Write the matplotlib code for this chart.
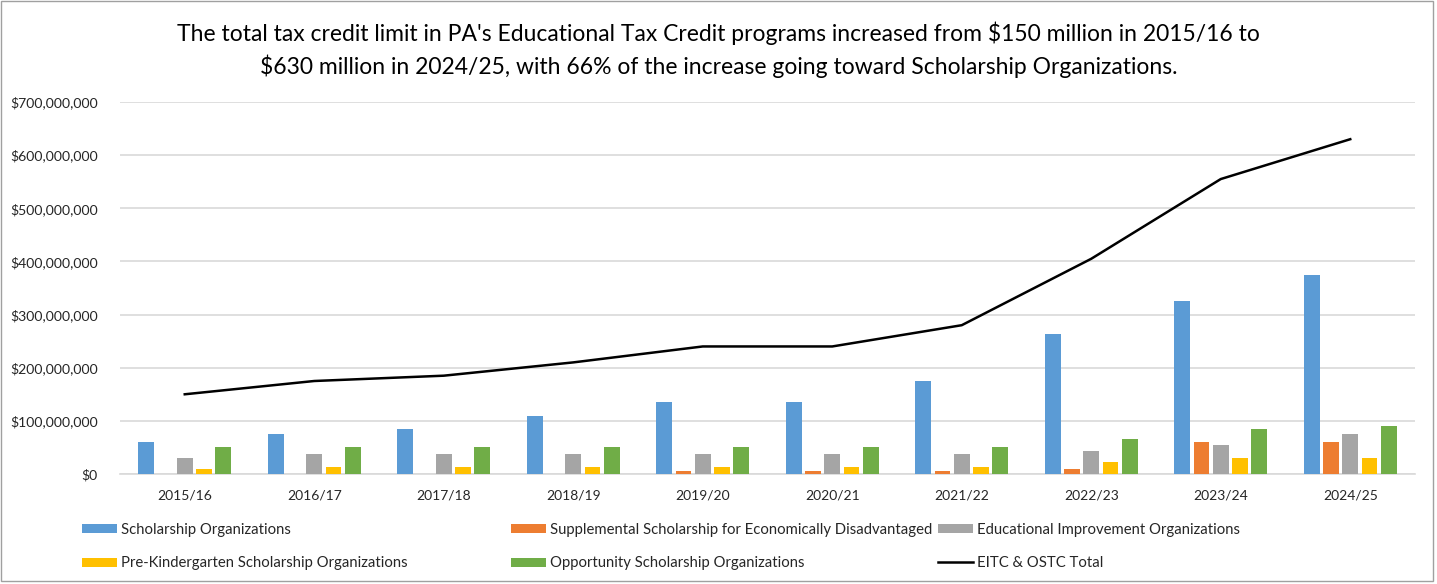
import numpy as np
import matplotlib
matplotlib.use('Agg')
import matplotlib.pyplot as plt
from matplotlib.ticker import FuncFormatter
from matplotlib.patches import Rectangle

plt.rcParams['font.family'] = ['Lato', 'DejaVu Sans']

years = ['2015/16', '2016/17', '2017/18', '2018/19', '2019/20',
         '2020/21', '2021/22', '2022/23', '2023/24', '2024/25']
scholarship = [60, 75, 85, 110, 135, 135, 175, 263.5, 325, 375]
supplemental = [0, 0, 0, 0, 5, 5, 5, 10, 60, 60]
improvement = [30, 37.5, 37.5, 37.5, 37.5, 37.5, 37.5, 44, 54, 75]
prek = [10, 12.5, 12.5, 12.5, 12.5, 12.5, 12.5, 22.5, 31, 30]
opportunity = [50, 50, 50, 50, 50, 50, 50, 65, 85, 90]
total = [150, 175, 185, 210, 240, 240, 280, 405, 555, 630]

names = ['Scholarship Organizations',
         'Supplemental Scholarship for Economically Disadvantaged',
         'Educational Improvement Organizations',
         'Pre-Kindergarten Scholarship Organizations',
         'Opportunity Scholarship Organizations']
series = [scholarship, supplemental, improvement, prek, opportunity]
colors = ['#5B9BD5', '#ED7D31', '#A5A5A5', '#FFC000', '#70AD47']

M = 1e6
fig = plt.figure(figsize=(14.37, 5.84), dpi=100)
ax = fig.add_axes([120/1437, 1-474/584, 1295/1437, 372/584])

x = np.arange(len(years))
slot = 0.149
bars = []
for i, (vals, c) in enumerate(zip(series, colors)):
    b = ax.bar(x + (i-2)*slot, np.array(vals)*M, width=0.122, color=c, zorder=3)
    bars.append(b)
line, = ax.plot(x, np.array(total)*M, color='black', lw=1.8, zorder=4)

ax.set_xlim(-0.5, 9.5)
ax.set_ylim(0, 700*M)
ax.set_yticks(np.arange(0, 701, 100)*M)
ax.yaxis.set_major_formatter(FuncFormatter(lambda v, p: '${:,.0f}'.format(v)))
ax.set_xticks(x)
ax.set_xticklabels(years)
ax.grid(axis='y', color='#D9D9D9', lw=1.2, zorder=0)
for s in ['top', 'right', 'left']:
    ax.spines[s].set_visible(False)
ax.spines['bottom'].set_color('#D9D9D9')
ax.spines['bottom'].set_linewidth(1.2)
ax.tick_params(axis='both', length=0, labelsize=10, colors='#262626')
ax.tick_params(axis='y', labelsize=10.1, pad=16)
ax.tick_params(axis='x', pad=11)

fig.text(0.5, 1-33/584, "The total tax credit limit in PA's Educational Tax Credit programs increased from $150 million in 2015/16 to",
         ha='center', va='center', fontsize=16.5, color='black')
fig.text(0.5, 1-66/584, "$630 million in 2024/25, with 66% of the increase going toward Scholarship Organizations.",
         ha='center', va='center', fontsize=16.5, color='black')

# three legend columns, placed like Excel does
cols = [([bars[0], bars[3]], [names[0], names[3]], 82),
        ([bars[1], bars[4]], [names[1], names[4]], 511),
        ([bars[2], line], [names[2], 'EITC & OSTC Total'], 938)]
for h, l, px in cols:
    fig.legend(h, l, loc='upper left', bbox_to_anchor=(px/1437, 1-523/584),
               frameon=False, fontsize=10.7, handlelength=2.35, handleheight=0.55,
               handletextpad=0.3, labelspacing=1.3, borderaxespad=0, borderpad=0,
               labelcolor='#262626')

fig.patches.append(Rectangle((0.5/1437, 3/584), 1432/1437, 580/584, transform=fig.transFigure,
                             fill=False, edgecolor='#A0A0A0', lw=1))

fig.savefig('out.png', dpi=100)
